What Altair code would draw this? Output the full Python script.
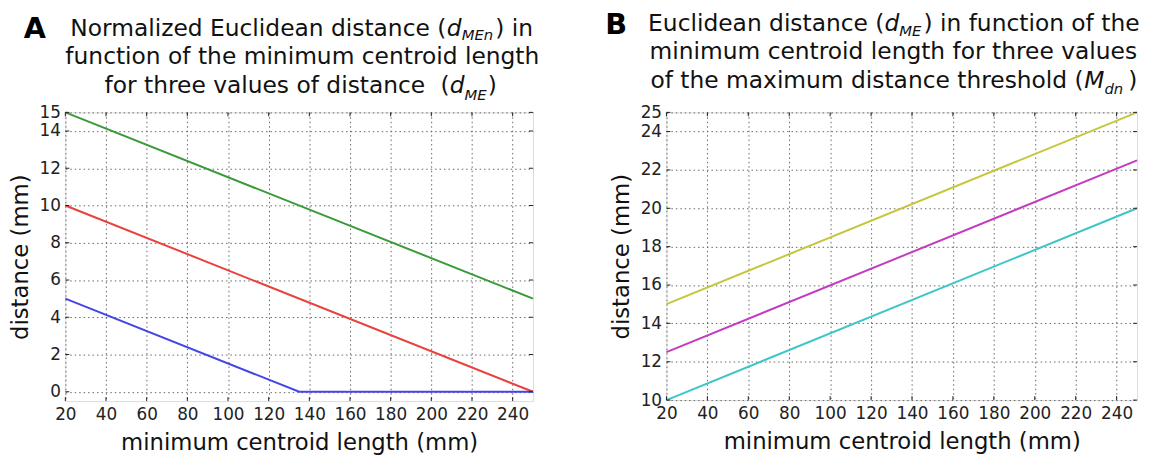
import altair as alt
import pandas as pd

# ---------------- data ----------------
len_green_a = [20, 250]
dist_green_a = [15, 5]
len_red_a = [20, 250]
dist_red_a = [10, 0]
len_blue_a = [20, 135, 250]
dist_blue_a = [5, 0, 0]

len_b = [20, 250]
dist_yellow_b = [15, 25]
dist_magenta_b = [12.5, 22.5]
dist_cyan_b = [10, 20]

x_ticks = [20, 40, 60, 80, 100, 120, 140, 160, 180, 200, 220, 240]
y_ticks_a = [0, 2, 4, 6, 8, 10, 12, 14, 15]
y_ticks_b = [10, 12, 14, 16, 18, 20, 22, 24, 25]

x_label = "minimum centroid length (mm)"
y_label = "distance (mm)"

series_names = ["green", "red", "blue", "yellow", "magenta", "cyan"]
series_colors = ["#3a9a3a", "#e8423e", "#4444ea", "#c6c63c", "#c23cc2", "#3cc6c6"]

# ---------------- style ----------------
FONT = "DejaVu Sans"
TXT = "#111111"
WA, HA = 473, 292
WB, HB = 476, 291

# DejaVu Sans advance widths (units per 2048 em)
ADV = {" ": 651, "(": 799, ")": 799, "E": 1294, "M": 1767, "N": 1532,
       "a": 1255, "c": 1126, "d": 1300, "e": 1260, "f": 721, "g": 1300,
       "h": 1298, "i": 569, "l": 569, "m": 1995, "n": 1298, "o": 1253,
       "r": 842, "s": 1067, "t": 803, "u": 1298, "v": 1212, "x": 1212,
       "z": 1075}
SIZES = {"n": 23.6, "i": 23.6, "s": 15, "g": 23.6}


def width(s, size, k):
    if k == "g":
        return float(s)
    return sum(ADV.get(c, 1200) for c in s) / 2048.0 * size


def title_line(pieces, cx, y, sub_dy=5):
    total = sum(width(t, SIZES[k], k) for t, k in pieces)
    x = cx - total / 2.0
    layers = []
    for t, k in pieces:
        w = width(t, SIZES[k], k)
        if k != "g" and t.strip():
            layers.append(
                alt.Chart(pd.DataFrame({"t": [t]}))
                .mark_text(align="left", baseline="alphabetic", font=FONT,
                           fontSize=SIZES[k],
                           fontStyle="italic" if k in ("i", "s") else "normal",
                           color=TXT)
                .encode(x=alt.value(x), y=alt.value(y + (sub_dy if k == "s" else 0)),
                        text="t:N")
            )
        x += w
    return layers


def letter(t, x, y):
    return (alt.Chart(pd.DataFrame({"t": [t]}))
            .mark_text(align="left", baseline="alphabetic", font=FONT,
                       fontSize=29, fontWeight="bold", color="#000000")
            .encode(x=alt.value(x), y=alt.value(y), text="t:N"))


def axes(domain_x, domain_y, yvals):
    ax = alt.Axis(values=x_ticks, grid=True, gridDash=[1.5, 3], gridColor="#666666",
                  gridWidth=1, tickSize=0, domain=False, labelFont=FONT,
                  labelFontSize=17, labelColor="#222222", labelPadding=6,
                  labelFlush=False, labelOverlap=False, title=x_label,
                  titleFont=FONT, titleFontSize=23, titleFontWeight="normal",
                  titleColor=TXT, titlePadding=9)
    ay = alt.Axis(values=yvals, grid=True, gridDash=[1.5, 3], gridColor="#666666",
                  gridWidth=1, tickSize=0, domain=False, labelFont=FONT,
                  labelFontSize=17, labelColor="#222222", labelPadding=5,
                  labelFlush=False, labelOverlap=False, title=y_label,
                  titleFont=FONT, titleFontSize=23, titleFontWeight="normal",
                  titleColor=TXT, titlePadding=7)
    xe = alt.X("length:Q", scale=alt.Scale(domain=domain_x, nice=False, zero=False), axis=ax)
    ye = alt.Y("distance:Q", scale=alt.Scale(domain=domain_y, nice=False, zero=False), axis=ay)
    return xe, ye


def tick_layers(xe, ye, yvals, W, H):
    dx = pd.DataFrame({"length": x_ticks})
    dy = pd.DataFrame({"distance": yvals})
    c = "#222222"
    return [
        alt.Chart(dx).mark_rule(color=c, strokeWidth=1).encode(x=xe, y=alt.value(0), y2=alt.value(4)),
        alt.Chart(dx).mark_rule(color=c, strokeWidth=1).encode(x=xe, y=alt.value(H - 4), y2=alt.value(H)),
        alt.Chart(dy).mark_rule(color=c, strokeWidth=1).encode(y=ye, x=alt.value(0), x2=alt.value(4)),
        alt.Chart(dy).mark_rule(color=c, strokeWidth=1).encode(y=ye, x=alt.value(W - 4), x2=alt.value(W)),
    ]


def series_df(items):
    rows = []
    for name, xs, ys in items:
        for xv, yv in zip(xs, ys):
            rows.append({"series": name, "length": xv, "distance": yv})
    return pd.DataFrame(rows)


color_enc = alt.Color("series:N", legend=None,
                      scale=alt.Scale(domain=series_names, range=series_colors))

# ---------------- panel A ----------------
xa, ya = axes([20, 250], [-0.5, 15], y_ticks_a)
df_a = series_df([("green", len_green_a, dist_green_a),
                  ("red", len_red_a, dist_red_a),
                  ("blue", len_blue_a, dist_blue_a)])
lines_a = alt.Chart(df_a).mark_line(strokeWidth=2).encode(
    x=xa, y=ya, color=color_enc, detail="series:N")
title_a = []
cxa = 240
title_a += title_line([("Normalized Euclidean distance (", "n"), ("d", "i"),
                       ("MEn", "s"), ("2", "g"), (") in", "n")], cxa - 1, -77, 4)
title_a += title_line([("function of the minimum centroid length", "n")], cxa, -48.5)
title_a += title_line([("for three values of distance", "n"), ("15", "g"), ("(", "n"),
                       ("d", "i"), ("ME", "s"), ("1", "g"), (")", "n")], cxa - 2, -20, 7)
panel_a = alt.layer(
    lines_a, *tick_layers(xa, ya, y_ticks_a, WA, HA), *title_a, letter("A", -42, -75)
).properties(width=WA, height=HA)

# ---------------- panel B ----------------
xb, yb = axes([20, 250], [10, 25], y_ticks_b)
df_b = series_df([("yellow", len_b, dist_yellow_b),
                  ("magenta", len_b, dist_magenta_b),
                  ("cyan", len_b, dist_cyan_b)])
lines_b = alt.Chart(df_b).mark_line(strokeWidth=2).encode(
    x=xb, y=yb, color=color_enc, detail="series:N")
title_b = []
cxb = 230
title_b += title_line([("Euclidean distance (", "n"), ("d", "i"), ("ME", "s"), ("2", "g"),
                       (") in function of the", "n")], cxb, -82, 5)
title_b += title_line([("minimum centroid length for three values", "n")], cxb, -53.5)
title_b += title_line([("of the maximum distance threshold (", "n"), ("M", "i"),
                       ("dn", "s"), ("5", "g"), (")", "n")], cxb, -25, 6)
panel_b = alt.layer(
    lines_b, *tick_layers(xb, yb, y_ticks_b, WB, HB), *title_b, letter("B", -62, -79)
).properties(width=WB, height=HB)

chart = alt.hconcat(panel_a, panel_b, spacing=135, bounds="flush").configure_view(
    stroke="#222222", strokeWidth=1.5
).configure(background="white", padding=0)

chart.save("out.html", embed_options={"renderer": "svg", "actions": False})
